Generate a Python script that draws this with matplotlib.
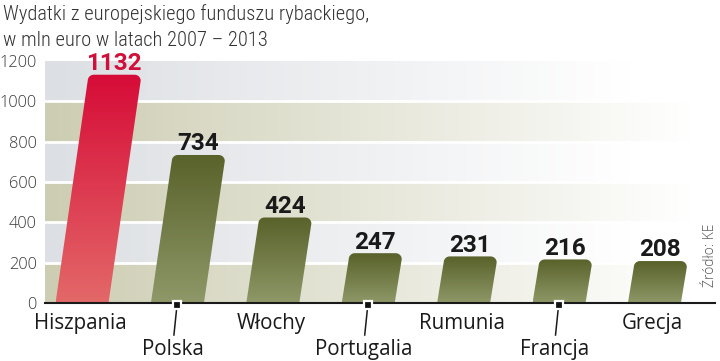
import numpy as np
import matplotlib
matplotlib.use('Agg')
import matplotlib.pyplot as plt
from matplotlib.patches import Polygon
from matplotlib.colors import to_rgb
from matplotlib import font_manager as fm

categories = ['Hiszpania', 'Polska', 'Włochy', 'Portugalia', 'Rumunia', 'Francja', 'Grecja']
values = [1132, 734, 424, 247, 231, 216, 208]
value_labels = ['1132', '734', '424', '247', '231', '216', '208']
yticks = [0, 200, 400, 600, 800, 1000, 1200]
title_lines = ['Wydatki z europejskiego funduszu rybackiego,', 'w mln euro w latach 2007 – 2013']
source = 'Źródło: KE'

plt.rcParams['font.family'] = ['Open Sans', 'DejaVu Sans']

# pick a narrow family if one is installed
ttf = fm.fontManager.ttflist
names = {f.name for f in ttf}
narrow = None
narrow_stretch = 'normal'
for cand in ['Liberation Sans Narrow', 'Roboto Condensed', 'Open Sans Condensed', 'Noto Sans Condensed']:
    if cand in names:
        narrow = cand
        break
if narrow is None:
    for f in ttf:
        if f.name == 'DejaVu Sans' and 'ondensed' in str(f.stretch) + f.fname:
            narrow = 'DejaVu Sans'
            narrow_stretch = 'condensed'
            break
if narrow is None:
    narrow = 'Roboto'

W, H = 720, 361
fig = plt.figure(figsize=(7.2, 3.61), dpi=100)
ax = fig.add_axes([45 / W, 58 / H, 670 / W, 242 / H])
ax.set_xlim(-0.388, 6.635)
ax.set_ylim(0, 1200)
for s in ['top', 'right', 'left']:
    ax.spines[s].set_visible(False)
ax.spines['bottom'].set_color('#1a1a1a')
ax.spines['bottom'].set_linewidth(1.5)
ax.spines['bottom'].set_zorder(6)
ax.set_xticks([])
ax.set_yticks(yticks)
ax.set_yticklabels([str(t) for t in yticks])
ax.tick_params(axis='y', length=0, pad=6, labelsize=11.8, labelcolor='#383838')
for lab in ax.get_yticklabels():
    lab.set_fontweight('light')

fig.canvas.draw()
renderer = fig.canvas.get_renderer()
T = ax.transData

def to_data(px_pts):
    return T.inverted().transform(px_pts)

# background bands with horizontal fade to white
beige = np.array(to_rgb('#cdcdb3'))
grey = np.array(to_rgb('#dcdfe3'))
ncol = 670
xs = np.arange(ncol)
bands = []
for j in range(6):
    if j % 2 == 0:
        c, fade = beige, 645.0
    else:
        c, fade = grey, 585.0
    t = np.clip(xs / fade, 0, 1)[:, None]
    row = c[None, :] * (1 - t) + np.ones(3)[None, :] * t
    bands.append(row)
bg = np.stack(bands, axis=0)
ax.imshow(bg, extent=(ax.get_xlim()[0], ax.get_xlim()[1], 0, 1200), origin='lower',
          aspect='auto', interpolation='nearest', zorder=0)
for t in yticks[1:-1]:
    ax.axhline(t, color='white', lw=2, zorder=1)

# slanted bars with rounded top
bar_w = 53.0
slant = 0.141
rad = 6.0
red_top, red_bot = np.array(to_rgb('#d60c38')), np.array(to_rgb('#e36868'))
ol_top, ol_bot = np.array(to_rgb('#59622a')), np.array(to_rgb('#8e9868'))

for i, v in enumerate(values):
    bx, by = T.transform((i, 0))
    _, ty = T.transform((i, v))
    h = ty - by
    tx = bx + slant * h
    pts = [(bx - bar_w / 2, by), (bx + bar_w / 2, by)]
    cr = (tx + bar_w / 2 - rad, ty - rad)
    for a in np.linspace(0, np.pi / 2, 8):
        pts.append((cr[0] + rad * np.cos(a), cr[1] + rad * np.sin(a)))
    cl = (tx - bar_w / 2 + rad, ty - rad)
    for a in np.linspace(np.pi / 2, np.pi, 8):
        pts.append((cl[0] + rad * np.cos(a), cl[1] + rad * np.sin(a)))
    dpts = to_data(np.array(pts))
    poly = Polygon(dpts, closed=True, facecolor='none', edgecolor='none', zorder=3)
    ax.add_patch(poly)
    top, bot = (red_top, red_bot) if i == 0 else (ol_top, ol_bot)
    n = 100
    tt = np.linspace(0, 1, n)[:, None]
    grad = (bot[None, :] * (1 - tt) + top[None, :] * tt)[:, None, :]
    xmin, xmax = dpts[:, 0].min(), dpts[:, 0].max()
    im = ax.imshow(grad, extent=(xmin, xmax, 0, v), origin='lower', aspect='auto',
                   interpolation='bilinear', zorder=3)
    im.set_clip_path(poly)
    # value label
    top_cx = to_data([(tx, ty)])[0][0]
    ax.annotate(value_labels[i], xy=(top_cx, v), xytext=(0, 3.3), textcoords='offset points',
                ha='center', va='baseline', fontsize=17.5, fontweight='bold',
                family=['Roboto', 'DejaVu Sans'],
                color='#d0103a' if i == 0 else '#1a1a1a', zorder=5)
    # category label
    if i % 2 == 0:
        ax.annotate(categories[i], xy=(i, 0), xytext=(-1.5, -18.7), textcoords='offset points',
                    ha='center', va='baseline', fontsize=14.8, color='#1a1a1a',
                    annotation_clip=False)
    else:
        ax.annotate(categories[i], xy=(i, 0), xytext=(-3.5, -37.4), textcoords='offset points',
                    ha='center', va='baseline', fontsize=14.8, color='#1a1a1a',
                    annotation_clip=False)
        a = to_data([(bx - 0.5, by - 3), (bx - 3.5, by - 32)])
        ax.plot(a[:, 0], a[:, 1], color='#1a1a1a', lw=1.1, clip_on=False, zorder=7)
        m = to_data([(bx - 0.5, by - 2)])[0]
        ax.plot([m[0]], [m[1]], marker='s', ms=6.2, mfc='#111111', mec='white', mew=1.6,
                clip_on=False, zorder=8)

# title, fitted close to the reference width
title_texts = []
for k, line in enumerate(title_lines):
    tx_ = fig.text(3 / W, 1 - (20 + 26 * k) / H, line, va='baseline', ha='left', fontsize=15,
                   family=[narrow, 'DejaVu Sans'], fontstretch=narrow_stretch,
                   fontweight='light', color='#333333')
    title_texts.append(tx_)
wid = title_texts[0].get_window_extent(renderer).width
scale = min(1.0, 366.0 / wid)
for tx_ in title_texts:
    tx_.set_fontsize(15 * scale)

fig.text(711 / W, 1 - 287 / H, source, rotation=90, ha='center', va='bottom', fontsize=10,
         color='#555555', fontweight='light')

fig.savefig('out.png', dpi=100)
